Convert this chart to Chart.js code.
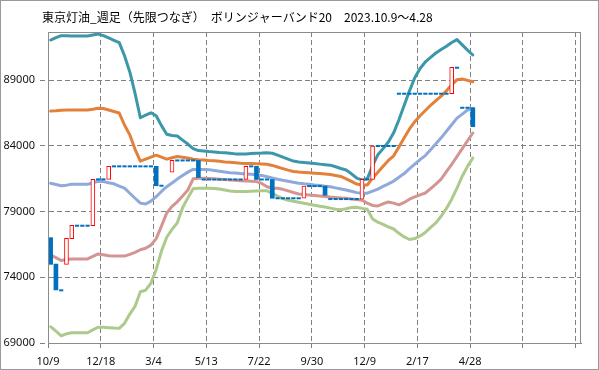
<!DOCTYPE html>
<html>
<head>
<meta charset="utf-8">
<script src="https://cdn.jsdelivr.net/npm/chart.js@4.4.1/dist/chart.umd.min.js"></script>
<style>
  html, body { margin: 0; padding: 0; background: #fff; }
  canvas { display: block; }
</style>
</head>
<body>
<canvas id="chart" width="599" height="370"></canvas>
<script>
const title = '東京灯油_週足（先限つなぎ）　ボリンジャーバンド20　2023.10.9～4.28';

// x axis: one slot per week, a label every 10 weeks
const xLabels = ['10/9', '12/18', '3/4', '5/13', '7/22', '9/30', '12/9', '2/17', '4/28'];
const xTickWeeks = [0, 10, 20, 30, 40, 50, 60, 70, 80, 90, 100];
const yTicks = [69000, 74000, 79000, 84000, 89000];

// weekly open / close (null = no print)
const openP = [
  77020, 75010, 73010, 74990, 76940, 77930, 77930, 77930, 77930, 81460,
  81460, 81460, 82450, 82450, 82450, 82450, 82450, 82450, 82450, 82450,
  82450, 80975, null, 82000, 82900, 82900, 82900, 82900, 82900, 81450,
  81450, 81450, 81450, 81450, 81450, 81450, 81450, 81450, 82450, 82450,
  81450, 81450, 81450, 80020, 80020, 80020, 80020, 80020, 80020, 80950,
  80950, 80950, 80950, 79960, 79960, 79960, 79960, 79960, 79960, 79960,
  81460, 81460, 84000, 84000, 84000, 84000, 87980, 87980, 87980, 87980,
  87980, 87980, 87980, 87980, 87980, 87980, 87980, 89960, 86910, 86910,
  86910
];
const closeP = [
  74990, 73040, 73010, 76970, 77960, 77930, 77930, 77930, 81460, 81460,
  81460, 82450, 82450, 82450, 82450, 82450, 82450, 82450, 82450, 82450,
  80975, 80975, null, 82900, 82900, 82900, 82900, 82900, 81600, 81450,
  81450, 81450, 81450, 81450, 81450, 81450, 81450, 82450, 82450, 81450,
  81450, 81450, 80020, 80020, 80020, 80020, 80020, 80020, 80950, 80950,
  80950, 80950, 80250, 79960, 79960, 79960, 79960, 79960, 79960, 81460,
  81460, 84000, 84000, 84000, 84000, 84000, 87980, 87980, 87980, 87980,
  87980, 87980, 87980, 87980, 87980, 87980, 89990, 89960, 86910, 86910,
  85470
];

// bollinger bands (20)
const upper2 = [
  92070, 92250, 92400, 92390, 92380, 92380, 92380, 92370, 92450, 92520,
  92400, 92230, 92050, 91870, 90870, 89640, 88000, 86150, 86350, 86530,
  86300, 85550, 84900, 84800, 84760, 84450, 84150, 83800, 83650, 83620,
  83580, 83550, 83510, 83480, 83440, 83400, 83390, 83400, 83420, 83440,
  83460, 83490, 83450, 83300, 83150, 83000, 82850, 82780, 82740, 82700,
  82660, 82620, 82580, 82540, 82420, 82290, 82170, 81880, 81560, 81420,
  81500, 82500, 83330, 83800, 84300, 85000, 86000, 87100, 88200, 89200,
  89900, 90400, 90750, 91080, 91350, 91600, 91880, 92100, 91700, 91300,
  90930
];
const upper1 = [
  86660, 86690, 86730, 86740, 86740, 86740, 86740, 86740, 86800, 86880,
  86850, 86740, 86630, 86510, 85600, 84850, 83750, 82850, 83000, 83150,
  83300, 83150, 83000, 83100, 83200, 83150, 83080, 82990, 82960, 82940,
  82900, 82870, 82830, 82790, 82760, 82720, 82680, 82670, 82660, 82650,
  82630, 82610, 82520, 82400, 82280, 82160, 82060, 82020, 81990, 81960,
  81930, 81900, 81870, 81830, 81760, 81680, 81500, 81300, 81100, 81030,
  81030, 81550, 82000, 82450, 82900, 83250, 83930, 84620, 85300, 85850,
  86300, 86700, 87100, 87450, 87800, 88200, 88650, 89050, 89100, 89000,
  88890
];
const middle = [
  81160, 81070, 80980, 81020, 81080, 81080, 81080, 81080, 81200, 81320,
  81290, 81200, 81120, 80950, 80790, 80400, 80020, 79650, 79580, 79800,
  80140, 80540, 80900, 81180, 81480, 81760, 82010, 82220, 82220, 82220,
  82200, 82140, 82080, 82020, 81970, 81940, 81900, 81870, 81840, 81810,
  81760, 81660, 81560, 81470, 81390, 81320, 81240, 81170, 81120, 81080,
  81030, 80990, 80940, 80890, 80810, 80730, 80650, 80550, 80450, 80400,
  80410, 80560, 80720, 80920, 81120, 81330, 81620, 81900, 82270, 82620,
  82960, 83270, 83720, 84170, 84620, 85120, 85620, 86120, 86430, 86740,
  86870
];
const lower1 = [
  75700, 75500, 75280, 75350, 75400, 75400, 75400, 75400, 75600, 75780,
  75720, 75640, 75620, 75620, 75620, 75750, 75900, 76100, 76210, 76450,
  76950, 77900, 78900, 79400, 79750, 80200, 80650, 81500, 81540, 81540,
  81530, 81500, 81470, 81440, 81410, 81390, 81360, 81340, 81320, 81290,
  81150, 80900, 80780, 80780, 80700, 80580, 80460, 80350, 80310, 80270,
  80230, 80190, 80150, 80110, 80080, 80050, 80020, 79970, 79930, 79870,
  79650, 79470, 79440, 79600, 79740, 79650, 79520, 79700, 79950, 80130,
  80280, 80420, 80750, 81100, 81480, 82050, 82600, 83200, 83800, 84400,
  84990
];
const lower2 = [
  70240, 69900, 69550, 69700, 69780, 69780, 69780, 69780, 70000, 70200,
  70200, 70170, 70140, 70120, 70500, 71200, 71800, 72900, 73020, 73550,
  74600, 76000, 77050, 77650, 78150, 79300, 80050, 80750, 80780, 80780,
  80780, 80770, 80720, 80650, 80580, 80530, 80530, 80540, 80560, 80580,
  80600, 80590, 80400, 80180, 80000, 79870, 79800, 79720, 79640, 79560,
  79490, 79420, 79350, 79270, 79180, 79150, 79220, 79320, 79340, 79250,
  79180, 78450, 78200, 78040, 77850, 77680, 77350, 77080, 76880, 76950,
  77150, 77420, 77800, 78150, 78650, 79250, 79950, 80800, 81700, 82450,
  83090
];

// split the weeks into up, down and unchanged
const upBars = [], downBars = [], flatMarks = [];
openP.forEach((o, i) => {
  const c = closeP[i];
  if (o == null || c == null) return;
  const x = i + 0.5;
  if (c > o) upBars.push({x: x, y: [o, c]});
  else if (c < o) downBars.push({x: x, y: [c, o]});
  else flatMarks.push({x: x, y: o});
});

function band(values, color) {
  return {
    type: 'line',
    data: values.map((v, i) => ({x: i + 0.5, y: v})),
    borderColor: color,
    borderWidth: 3,
    pointRadius: 0,
    tension: 0,
    borderJoinStyle: 'round',
    borderCapStyle: 'round',
    order: 2
  };
}

const gridColor = '#808080';

const frame = {
  id: 'frame',
  beforeDraw(chart) {
    const ctx = chart.ctx;
    ctx.save();
    ctx.fillStyle = '#fff';
    ctx.fillRect(0, 0, chart.width, chart.height);
    ctx.restore();
  },
  afterDraw(chart) {
    const {ctx, chartArea} = chart;
    ctx.save();
    ctx.lineWidth = 1;
    ctx.strokeStyle = '#8c8c8c';
    ctx.strokeRect(chartArea.left + 0.5, chartArea.top + 0.5,
      chartArea.right - chartArea.left - 1, chartArea.bottom - chartArea.top);
    ctx.strokeStyle = '#9a9a9a';
    ctx.strokeRect(0.5, 0.5, chart.width - 1, chart.height - 1);
    ctx.fillStyle = '#000';
    ctx.font = "12px 'Noto Sans CJK JP'";
    ctx.textBaseline = 'middle';
    ctx.fillText(title, 42, 17);
    ctx.restore();
  }
};

Chart.defaults.font.family = "'Noto Sans', 'Noto Sans CJK JP', sans-serif";

new Chart(document.getElementById('chart'), {
  type: 'line',
  plugins: [frame],
  data: {
    datasets: [
      band(upper2, '#3C97AA'),
      band(upper1, '#E3803A'),
      band(middle, '#8FAADA'),
      band(lower1, '#D49592'),
      band(lower2, '#ADCA8D'),
      {
        type: 'bar',
        data: upBars,
        backgroundColor: '#fff',
        borderColor: '#ff0000',
        borderWidth: 1,
        borderSkipped: false,
        barThickness: 4,
        grouped: false,
        order: 1
      },
      {
        type: 'bar',
        data: downBars,
        backgroundColor: '#0070C0',
        borderWidth: 0,
        barThickness: 4,
        grouped: false,
        order: 1
      },
      {
        type: 'line',
        data: flatMarks,
        showLine: false,
        pointStyle: 'line',
        pointRadius: 2.1,
        pointBorderWidth: 2,
        pointBorderColor: '#0070C0',
        borderColor: '#0070C0',
        order: 0
      }
    ]
  },
  options: {
    responsive: false,
    animation: false,
    events: [],
    layout: {
      padding: {left: 0, right: 18, top: 32, bottom: 0}
    },
    plugins: {
      legend: {display: false},
      tooltip: {enabled: false}
    },
    scales: {
      x: {
        type: 'linear',
        min: 0,
        max: 101,
        offset: false,
        afterBuildTicks: (scale) => {
          scale.ticks = xTickWeeks.map(v => ({value: v}));
        },
        afterFit: (scale) => {
          scale.height = 27;
        },
        grid: {
          color: gridColor,
          tickLength: 5,
          tickBorderDash: [5, 3],
          offset: false
        },
        border: {
          display: true,
          color: gridColor,
          dash: [5, 3]
        },
        ticks: {
          autoSkip: false,
          maxRotation: 0,
          padding: 7,
          color: '#111',
          font: {size: 11},
          callback: (v) => xLabels[v / 10] || ''
        }
      },
      y: {
        min: 69000,
        max: 92680,
        afterBuildTicks: (scale) => {
          scale.ticks = yTicks.map(v => ({value: v}));
        },
        afterFit: (scale) => {
          scale.width = 48;
        },
        grid: {
          color: gridColor,
          tickLength: 8,
          tickBorderDash: [5, 3]
        },
        border: {
          display: true,
          color: gridColor,
          dash: [5, 3]
        },
        ticks: {
          padding: 5,
          color: '#111',
          font: {size: 11},
          callback: (v) => String(v)
        }
      }
    }
  }
});
</script>
</body>
</html>
